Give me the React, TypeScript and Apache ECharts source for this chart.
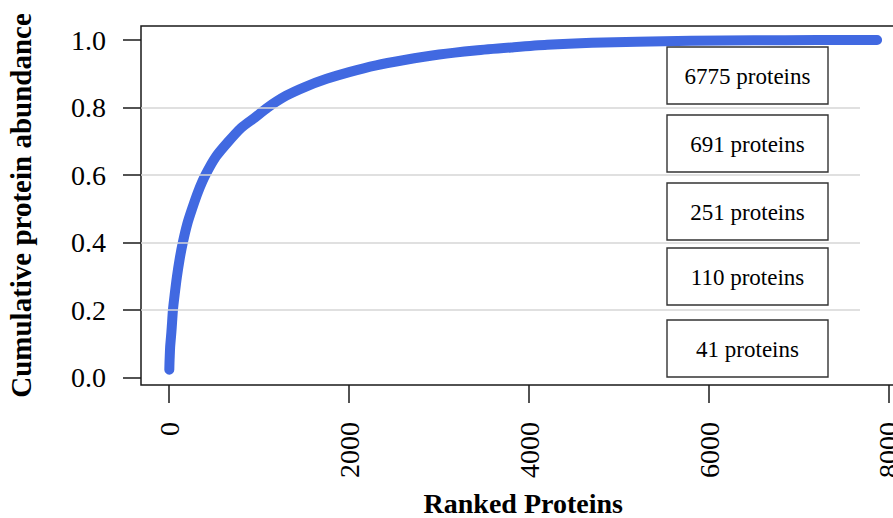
import React, { useEffect, useRef } from "react";
import * as echarts from "echarts";

// Ranked proteins (x) against cumulative share of total abundance (y)
const rankValues = [
  1, 3, 6, 10, 16, 24, 32, 41, 60, 85, 115, 151, 200, 250, 320, 402, 520, 650,
  800, 950, 1093, 1300, 1500, 1750, 2000, 2300, 2600, 3000, 3400, 3800, 4200,
  4700, 5200, 5800, 6500, 7200, 7868,
];
const cumulativeValues = [
  0.024, 0.045, 0.065, 0.09, 0.11, 0.135, 0.165, 0.2, 0.245, 0.298, 0.35, 0.4,
  0.455, 0.497, 0.55, 0.6, 0.655, 0.697, 0.74, 0.77, 0.8, 0.835, 0.86, 0.885,
  0.905, 0.925, 0.94, 0.957, 0.969, 0.978, 0.986, 0.992, 0.995, 0.998, 0.999,
  0.9997, 1.0,
];

// Number of proteins making up each 20% slice of abundance, top slice first
const sliceCounts = [6775, 691, 251, 110, 41];

const xTicks = [0, 2000, 4000, 6000, 8000];
const yTicks = [0, 0.2, 0.4, 0.6, 0.8, 1.0];
const gridLevels = [0.2, 0.4, 0.6, 0.8];

const FONT = "'Liberation Serif', 'Times New Roman', serif";

export default function App() {
  const ref = useRef<HTMLDivElement>(null);

  useEffect(() => {
    if (!ref.current) return;
    const chart = echarts.init(ref.current, null, { renderer: "svg" });

    const points = rankValues.map((r, i) => [r, cumulativeValues[i]]);
    const n = rankValues[rankValues.length - 1];
    const xPad = 0.04 * (n - 1);
    const xMin = 1 - xPad;
    const xMax = n + xPad;
    const gridEnd = 7678;

    const boxTops = [47, 115, 183, 248, 320];
    const boxes = sliceCounts.map((c, i) => ({
      type: "group",
      x: 667,
      y: boxTops[i],
      children: [
        {
          type: "rect",
          shape: { x: 0, y: 0, width: 161, height: 57 },
          style: { fill: "#ffffff", stroke: "#333333", lineWidth: 1.4 },
        },
        {
          type: "text",
          x: 80.5,
          y: 29,
          style: {
            text: `${c} proteins`,
            fontFamily: FONT,
            fontSize: 23,
            fill: "#000000",
            align: "center",
            verticalAlign: "middle",
          },
        },
      ],
    }));

    chart.setOption({
      animation: false,
      backgroundColor: "#ffffff",
      grid: {
        show: true,
        left: 141,
        top: 26,
        height: 359,
        right: 893 - 905.4,
        containLabel: false,
        outerBoundsMode: "none",
        borderColor: "#1a1a1a",
        borderWidth: 1.5,
        backgroundColor: "transparent",
      },
      xAxis: {
        type: "value",
        min: xMin,
        max: xMax,
        name: "Ranked Proteins",
        nameLocation: "middle",
        nameGap: 104,
        nameTextStyle: {
          fontFamily: FONT,
          fontSize: 28,
          fontWeight: "bold",
          color: "#000000",
        },
        axisLine: { show: false, onZero: false },
        splitLine: { show: false },
        axisTick: {
          show: true,
          length: 18,
          customValues: xTicks,
          lineStyle: { color: "#1a1a1a", width: 1.5 },
        },
        axisLabel: {
          customValues: xTicks,
          rotate: 90,
          margin: 37,
          fontFamily: FONT,
          fontSize: 28,
          color: "#000000",
          formatter: (v: number) => String(v),
        },
      },
      yAxis: {
        type: "value",
        min: -0.0215,
        max: 1.0415,
        name: "Cumulative protein abundance",
        nameLocation: "middle",
        nameGap: 106,
        nameRotate: 90,
        nameTextStyle: {
          fontFamily: FONT,
          fontSize: 29,
          fontWeight: "bold",
          color: "#000000",
        },
        axisLine: { show: false, onZero: false },
        splitLine: { show: false },
        axisTick: {
          show: true,
          length: 18,
          customValues: yTicks,
          lineStyle: { color: "#1a1a1a", width: 1.5 },
        },
        axisLabel: {
          customValues: yTicks,
          margin: 35,
          fontFamily: FONT,
          fontSize: 28,
          color: "#000000",
          formatter: (v: number) => v.toFixed(1),
        },
      },
      series: [
        {
          type: "line",
          data: points,
          showSymbol: false,
          smooth: 0.25,
          lineStyle: { color: "#4169E1", width: 10, cap: "round", join: "round" },
          markLine: {
            silent: true,
            symbol: "none",
            label: { show: false },
            lineStyle: { color: "#d6d6d6", width: 1.5, type: "solid" },
            data: gridLevels.map((g) => [
              { coord: [xMin, g] },
              { coord: [gridEnd, g] },
            ]),
          },
        },
      ],
      graphic: boxes,
    });

    return () => chart.dispose();
  }, []);

  return (
    <div
      ref={ref}
      style={{ position: "absolute", left: 0, top: 0, width: 893, height: 518 }}
    />
  );
}
